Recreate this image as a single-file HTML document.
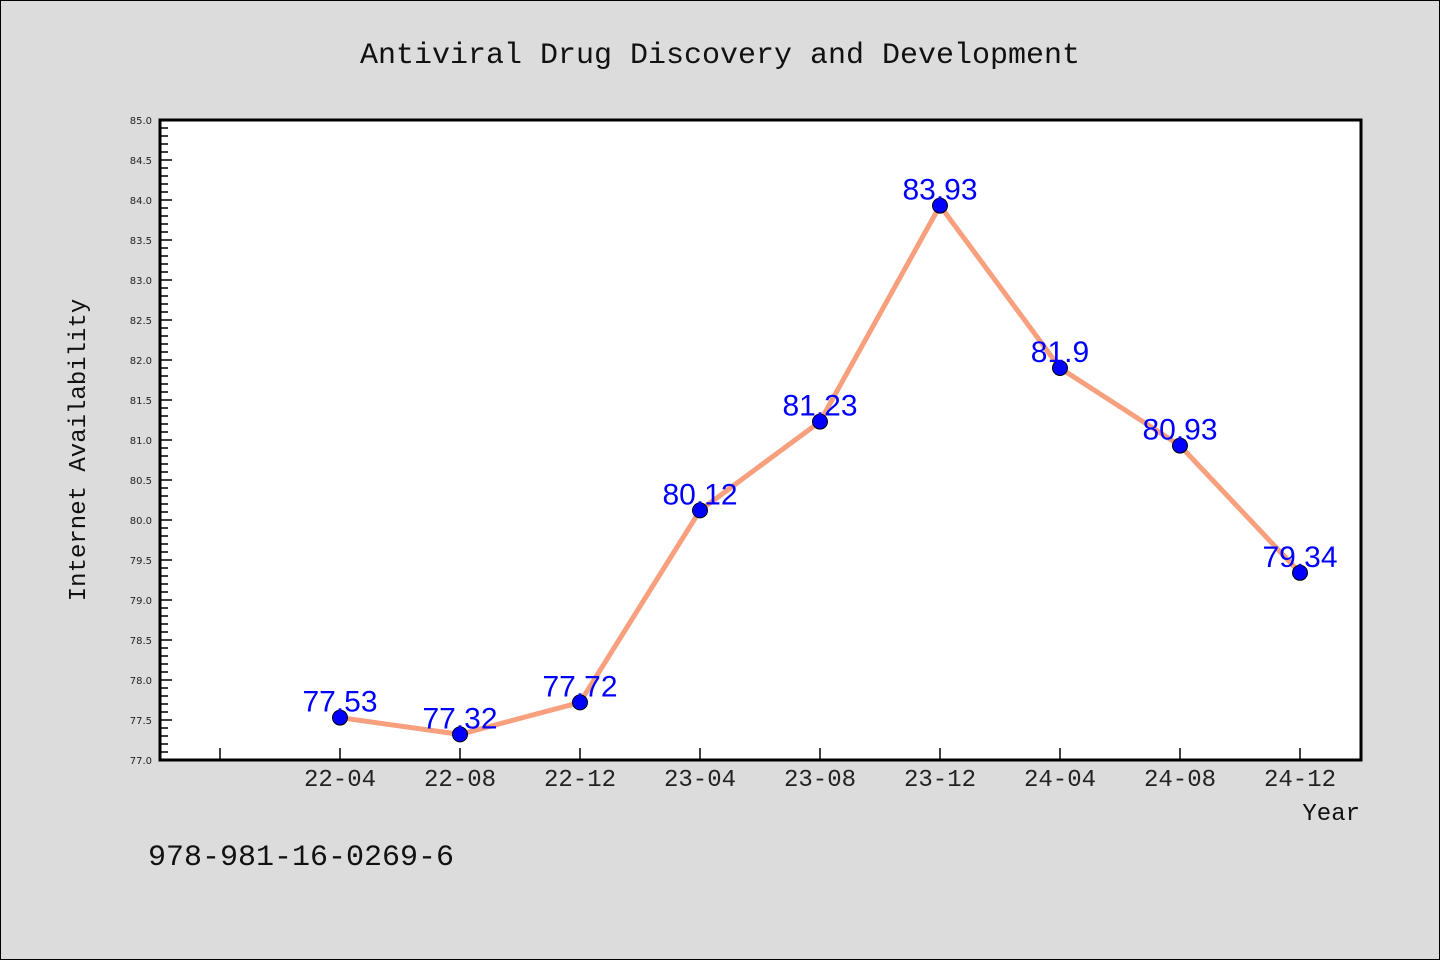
<!DOCTYPE html>
<html><head><meta charset="utf-8"><style>
html,body{margin:0;padding:0;background:#dcdcdc;}
svg{display:block;}
</style></head><body>
<svg width="1440" height="960" xmlns="http://www.w3.org/2000/svg">
<rect x="0.5" y="0.5" width="1439" height="959" fill="#dcdcdc" stroke="#000"/>
<text x="720" y="63" text-anchor="middle" font-family="'Liberation Mono','WenQuanYi Zen Hei',monospace" font-size="30" fill="#111">Antiviral Drug Discovery and Development</text>
<rect x="160" y="120" width="1201" height="640" fill="#fff" stroke="#000" stroke-width="3"/>
<g id="yaxis"></g>
<g id="xaxis"></g>
<text transform="translate(85,450) rotate(-90)" text-anchor="middle" font-family="'Liberation Mono','WenQuanYi Zen Hei',monospace" font-size="24" fill="#111">Internet Availability</text>
<text x="1360" y="820" text-anchor="end" font-family="'Liberation Mono','WenQuanYi Zen Hei',monospace" font-size="24" fill="#111">Year</text>
<text x="148" y="865" font-family="'Liberation Mono',monospace" font-size="30" fill="#111">978-981-16-0269-6</text>
<g id="series"></g>
</svg>
<script>
const categories=["22-04","22-08","22-12","23-04","23-08","23-12","24-04","24-08","24-12"];
const values=[77.53,77.32,77.72,80.12,81.23,83.93,81.9,80.93,79.34];
const valueLabels=["77.53","77.32","77.72","80.12","81.23","83.93","81.9","80.93","79.34"];
const yTicks=["77.0","77.5","78.0","78.5","79.0","79.5","80.0","80.5","81.0","81.5","82.0","82.5","83.0","83.5","84.0","84.5","85.0"];
const NS="http://www.w3.org/2000/svg";
const yMin=77,yMax=85,yTop=120,yBot=760;
const y=v=>yBot-(v-yMin)/(yMax-yMin)*(yBot-yTop);
const x=i=>340+120*i;
function mk(t,a,p){const e=document.createElementNS(NS,t);for(const k in a)e.setAttribute(k,a[k]);p.appendChild(e);return e;}
const ya=document.getElementById('yaxis');
for(let k=0;k<=80;k++){const v=yMin+k*0.1;const major=k%5===0;
 const l=mk('line',{x1:160,x2:major?172:168,y1:y(v),y2:y(v),stroke:'#000','stroke-width':1.5},ya);
 
 }
yTicks.forEach(t=>{const e=mk('text',{x:152,y:y(parseFloat(t))+4,'text-anchor':'end','font-family':"'DejaVu Sans',sans-serif",'font-size':10,fill:'#222'},ya);e.textContent=t;
 
 });
const xa=document.getElementById('xaxis');
[220].concat(categories.map((c,i)=>x(i))).forEach(px=>{const l=mk('line',{x1:px,x2:px,y1:760,y2:748,stroke:'#000','stroke-width':1.5},xa);
 
 });
categories.forEach((c,i)=>{const e=mk('text',{x:x(i),y:786,'text-anchor':'middle','font-family':"'Liberation Mono',monospace",'font-size':24,fill:'#222'},xa);e.textContent=c;
 
 });
const s=document.getElementById('series');
const pl=mk('polyline',{points:values.map((v,i)=>x(i)+','+y(v)).join(' '),fill:'none',stroke:'#f8a07e','stroke-width':5,'stroke-linejoin':'round'},s);


values.forEach((v,i)=>{const c=mk('circle',{cx:x(i),cy:y(v),r:7.5,fill:'#0000ff',stroke:'#000','stroke-width':1},s);
 
 
 const t=mk('text',{x:x(i),y:y(v)-6,'text-anchor':'middle','font-family':"'Liberation Sans',sans-serif",'font-size':30,fill:'#0000ff'},s);t.textContent=valueLabels[i];
 
 });
</script>
</body></html>
